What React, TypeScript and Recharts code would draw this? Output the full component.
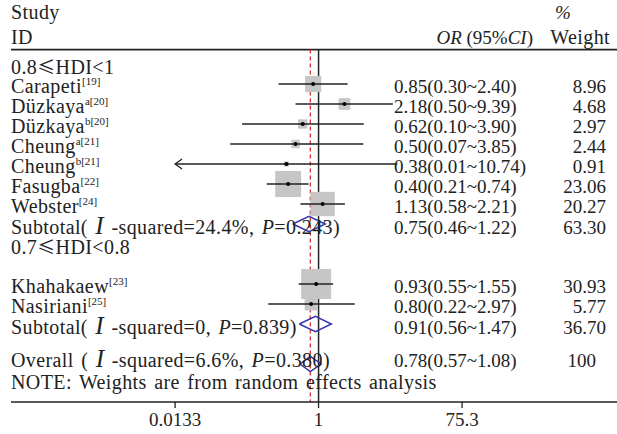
import { ScatterChart, Scatter, XAxis, YAxis, ReferenceLine } from "recharts";

// study rows (top to bottom)
const studies = ["Carapeti", "Düzkaya", "Düzkaya", "Cheung", "Cheung", "Fasugba", "Webster", "Khahakaew", "Nasiriani"];
const studyTags = ["", "a", "b", "a", "b", "", "", "", ""];
const studyRefs = ["19", "20", "20", "21", "21", "22", "24", "23", "25"];
const studyRows = [1, 2, 3, 4, 5, 6, 7, 11, 12];
const studyOR = [0.85, 2.18, 0.62, 0.5, 0.38, 0.4, 1.13, 0.93, 0.8];
const studyLow = [0.3, 0.5, 0.1, 0.07, 0.01, 0.21, 0.58, 0.55, 0.22];
const studyHigh = [2.4, 9.39, 3.9, 3.85, 10.74, 0.74, 2.21, 1.55, 2.97];
const studyWeight = [8.96, 4.68, 2.97, 2.44, 0.91, 23.06, 20.27, 30.93, 5.77];

const groupLow = ["0.8", "0.7"];
const groupHigh = ["1", "0.8"];
const groupRows = [0, 9];

// subtotals + overall
const pooledLabels = ["Subtotal( ", "Subtotal( ", "Overall ( "];
const pooledI2 = ["24.4%", "0", "6.6%"];
const pooledP = ["0.243", "0.839", "0.380"];
const pooledRows = [8, 13, 15];
const pooledOR = [0.75, 0.91, 0.78];
const pooledLow = [0.46, 0.56, 0.57];
const pooledHigh = [1.22, 1.47, 1.08];
const pooledWeight = ["63.30", "36.70", "100"];

const noteText = "NOTE: Weights are from random effects analysis";
const noteRow = 16;
const headerRow = -1.3;
const headerLineRow = -0.72;

const xTicks = [0.0133, 1, 75.3];

const FONT = "'Liberation Serif', 'Times New Roman', serif";
const CJK = "'Noto Sans CJK SC', sans-serif";
const INK = "#222";
const LEFT_X = 11;
const OR_X = 394;
const WT_X = 606;

const fmt = (v: number) => v.toFixed(2);

const boxData = studies.map((_, i) => ({ x: studyOR[i], y: studyRows[i], w: studyWeight[i] }));

function BoxShape(props: any) {
  const { cx, cy, payload } = props;
  const s = 5.4 * Math.sqrt(payload.w);
  return <rect x={cx - s / 2} y={cy - s / 2} width={s} height={s} fill="#c6c6c6" />;
}

function DotShape(props: any) {
  return <circle cx={props.cx} cy={props.cy} r={2} fill="#000" />;
}

function ArrowShape(props: any) {
  const { cx, cy, payload } = props;
  if (!payload.arrow) return <g />;
  return <path d={`M${cx + 7},${cy - 5} L${cx},${cy} L${cx + 7},${cy + 5}`} stroke={INK} strokeWidth={1.3} fill="none" />;
}

const Empty = () => <g />;

function fmtCI(or: number, lo: number, hi: number) {
  return `${fmt(or)}(${fmt(lo)}~${fmt(hi)})`;
}

function RowTick(props: any) {
  const { y, payload } = props;
  const row = payload.value;
  const num = { fontFamily: FONT, fontSize: 19, fill: INK } as const;
  const lab = { fontFamily: FONT, fontSize: 20, fill: INK, letterSpacing: 0.4, wordSpacing: 2 } as const;

  if (row === headerRow) {
    return (
      <g>
        <text {...lab} x={LEFT_X} y={y - 19}>Study</text>
        <text {...lab} x={LEFT_X} y={y + 6}>ID</text>
        <text {...num} x={533} y={y + 6} textAnchor="end">
          <tspan fontStyle="italic">OR</tspan> (95%<tspan fontStyle="italic">CI</tspan>)
        </text>
        <text {...num} x={555} y={y - 19} fontStyle="italic">%</text>
        <text {...lab} x={WT_X + 4} y={y + 6} textAnchor="end">Weight</text>
      </g>
    );
  }
  const gi = groupRows.indexOf(row);
  if (gi >= 0) {
    return (
      <text {...lab} x={LEFT_X} y={y + 10}>
        {groupLow[gi]}
        <tspan fontFamily={CJK} fontSize={18}>≤</tspan>
        HDI&lt;{groupHigh[gi]}
      </text>
    );
  }
  const si = studyRows.indexOf(row);
  if (si >= 0) {
    return (
      <g>
        <text {...lab} x={LEFT_X} y={y + 9}>
          {studies[si]}
          <tspan fontSize={11} dy={-8} letterSpacing={0}>{studyTags[si]}[{studyRefs[si]}]</tspan>
        </text>
        <text {...num} x={OR_X} y={y + 9}>{fmtCI(studyOR[si], studyLow[si], studyHigh[si])}</text>
        <text {...num} x={WT_X} y={y + 9} textAnchor="end">{fmt(studyWeight[si])}</text>
      </g>
    );
  }
  const pi = pooledRows.indexOf(row);
  if (pi >= 0) {
    const dy = pi === 2 ? 3 : 10;
    return (
      <g>
        <text {...lab} x={LEFT_X} y={y + dy}>
          {pooledLabels[pi]}
          <tspan fontStyle="italic" fontSize={25}>I</tspan> -squared={pooledI2[pi]}, <tspan fontStyle="italic">P</tspan>={pooledP[pi]})
        </text>
        <text {...num} x={OR_X} y={y + dy}>{fmtCI(pooledOR[pi], pooledLow[pi], pooledHigh[pi])}</text>
        <text {...num} x={pooledWeight[pi].includes(".") ? WT_X : WT_X - 10} y={y + dy} textAnchor="end">
          {pooledWeight[pi]}
        </text>
      </g>
    );
  }
  if (row === noteRow) {
    return <text {...lab} x={LEFT_X} y={y + 5}>{noteText}</text>;
  }
  return <g />;
}

const tickRows = [headerRow, ...groupRows, ...studyRows, ...pooledRows, noteRow];

export default function App() {
  const overall = pooledOR[pooledOR.length - 1];
  return (
    <div style={{ position: "absolute", left: 0, top: 0, background: "#fff" }}>
      <ScatterChart width={617} height={434} margin={{ top: 0, right: 0, bottom: 0, left: 10 }}>
        <XAxis
          dataKey="x"
          type="number"
          scale="log"
          domain={[9.5e-5, 8000]}
          allowDataOverflow
          ticks={xTicks}
          interval={0}
          height={32}
          tickSize={6}
          tickMargin={5}
          tickFormatter={(v: number) => String(v)}
          axisLine={{ stroke: INK, strokeWidth: 1.5 }}
          tickLine={{ stroke: INK, strokeWidth: 1.3 }}
          tick={{ fontFamily: FONT, fontSize: 19, fill: INK }}
        />
        <YAxis
          dataKey="y"
          type="number"
          domain={[-3.2, 16.9]}
          reversed
          allowDataOverflow
          ticks={tickRows}
          interval={0}
          width={1}
          axisLine={false}
          tickLine={false}
          tick={(p: any) => <RowTick {...p} />}
        />
        <ReferenceLine y={headerLineRow} stroke={INK} strokeWidth={1.8} />
        <ReferenceLine
          segment={[{ x: 1, y: headerLineRow }, { x: 1, y: 16.9 }]}
          stroke={INK}
          strokeWidth={1.5}
        />
        <ReferenceLine
          segment={[{ x: overall, y: headerLineRow }, { x: overall, y: 16.9 }]}
          stroke="#d9302c"
          strokeWidth={1.3}
          strokeDasharray="4 3"
        />
        <Scatter data={boxData} shape={<BoxShape />} isAnimationActive={false} />
        {studies.map((_, i) => (
          <Scatter
            key={"ci" + i}
            data={[
              { x: Math.max(studyLow[i], xTicks[0]), y: studyRows[i], arrow: studyLow[i] < xTicks[0] },
              { x: Math.min(studyHigh[i], xTicks[2]), y: studyRows[i], arrow: false },
            ]}
            line={{ stroke: INK, strokeWidth: 1.3 }}
            lineType="joint"
            shape={<ArrowShape />}
            isAnimationActive={false}
          />
        ))}
        <Scatter data={boxData} shape={<DotShape />} isAnimationActive={false} />
        {pooledRows.map((r, i) => (
          <Scatter
            key={"d" + i}
            data={[
              { x: pooledLow[i], y: r },
              { x: pooledOR[i], y: r - 0.38 },
              { x: pooledHigh[i], y: r },
              { x: pooledOR[i], y: r + 0.38 },
              { x: pooledLow[i], y: r },
            ]}
            line={{ stroke: "#3535a8", strokeWidth: 1.5 }}
            lineType="joint"
            shape={<Empty />}
            isAnimationActive={false}
          />
        ))}
      </ScatterChart>
    </div>
  );
}
